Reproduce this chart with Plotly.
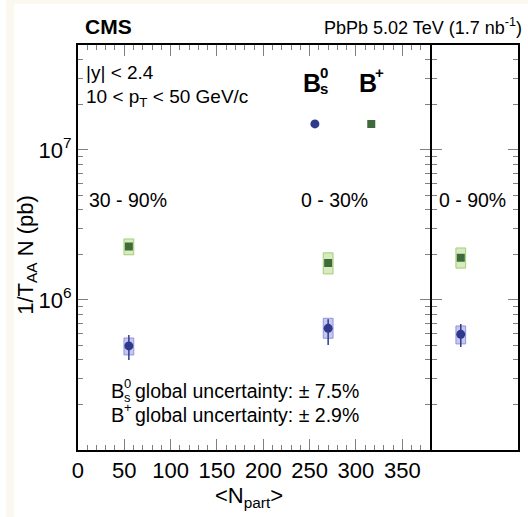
import plotly.graph_objects as go

W, H = 528, 517

# ---------------- data ----------------
centrality_labels = ["30 - 90%", "0 - 30%"]
npart = [55, 270]
total_label = "0 - 90%"

bplus_y = [2.27e6, 1.76e6]
bplus_syst_lo = [2.00e6, 1.49e6]
bplus_syst_hi = [2.55e6, 2.06e6]

bs_y = [4.94e5, 6.47e5]
bs_stat_lo = [3.98e5, 5.01e5]
bs_stat_hi = [5.84e5, 7.43e5]
bs_syst_lo = [4.30e5, 5.55e5]
bs_syst_hi = [5.58e5, 7.55e5]

# integrated 0-90%
bplus_tot = [1.91e6]
bplus_tot_syst_lo = [1.63e6]
bplus_tot_syst_hi = [2.22e6]
bs_tot = [5.90e5]
bs_tot_stat_lo = [4.86e5]
bs_tot_stat_hi = [6.92e5]
bs_tot_syst_lo = [5.09e5]
bs_tot_syst_hi = [6.71e5]
tot_pos = [1]

x_ticks = [0, 50, 100, 150, 200, 250, 300, 350]
y_ticks = [1e6, 1e7]
y_ticktext = ["10<sup>6</sup>", "10<sup>7</sup>"]
y_minor = [k * 10 ** e for e in (5, 6) for k in range(2, 10)] + [2e7, 3e7, 4e7]

legend_x = [255.7, 316.5]
legend_y = [1.49e7, 1.49e7]

FONT = "Liberation Sans, Arial, sans-serif"
BS_COL = "#303a8c"
BP_COL = "#3f6a3a"
BS_FILL = "rgba(110,115,215,0.40)"
BS_EDGE = "rgba(120,125,215,0.75)"
BP_FILL = "rgba(165,210,115,0.45)"
BP_EDGE = "rgba(150,200,100,0.85)"


def boxes(xs, lo, hi, hw):
    bx, by = [], []
    for x, a, b in zip(xs, lo, hi):
        bx += [x - hw, x + hw, x + hw, x - hw, x - hw, None]
        by += [a, a, b, b, a, None]
    return bx, by


fig = go.Figure()

# main panel boxes
for lo, hi, fill, edge in [(bplus_syst_lo, bplus_syst_hi, BP_FILL, BP_EDGE),
                           (bs_syst_lo, bs_syst_hi, BS_FILL, BS_EDGE)]:
    bx, by = boxes(npart, lo, hi, 5.3)
    fig.add_trace(go.Scatter(x=bx, y=by, mode="lines", fill="toself", fillcolor=fill,
                             line=dict(color=edge, width=1), hoverinfo="skip",
                             xaxis="x", yaxis="y"))
# right panel boxes
for lo, hi, fill, edge in [(bplus_tot_syst_lo, bplus_tot_syst_hi, BP_FILL, BP_EDGE),
                           (bs_tot_syst_lo, bs_tot_syst_hi, BS_FILL, BS_EDGE)]:
    bx, by = boxes(tot_pos, lo, hi, 0.17)
    fig.add_trace(go.Scatter(x=bx, y=by, mode="lines", fill="toself", fillcolor=fill,
                             line=dict(color=edge, width=1), hoverinfo="skip",
                             xaxis="x2", yaxis="y2"))

# main panel markers
fig.add_trace(go.Scatter(
    x=npart, y=bs_y, mode="markers",
    marker=dict(symbol="circle", size=9, color=BS_COL),
    error_y=dict(type="data", symmetric=False,
                 array=[h - v for h, v in zip(bs_stat_hi, bs_y)],
                 arrayminus=[v - l for l, v in zip(bs_stat_lo, bs_y)],
                 color=BS_COL, thickness=1.5, width=0),
    xaxis="x", yaxis="y"))
fig.add_trace(go.Scatter(
    x=npart, y=bplus_y, mode="markers",
    marker=dict(symbol="square", size=8, color=BP_COL),
    xaxis="x", yaxis="y"))
# right panel markers
fig.add_trace(go.Scatter(
    x=tot_pos, y=bs_tot, mode="markers",
    marker=dict(symbol="circle", size=9, color=BS_COL),
    error_y=dict(type="data", symmetric=False,
                 array=[h - v for h, v in zip(bs_tot_stat_hi, bs_tot)],
                 arrayminus=[v - l for l, v in zip(bs_tot_stat_lo, bs_tot)],
                 color=BS_COL, thickness=1.5, width=0),
    xaxis="x2", yaxis="y2"))
fig.add_trace(go.Scatter(
    x=tot_pos, y=bplus_tot, mode="markers",
    marker=dict(symbol="square", size=8, color=BP_COL),
    xaxis="x2", yaxis="y2"))
# legend glyphs
fig.add_trace(go.Scatter(x=legend_x[:1], y=legend_y[:1], mode="markers",
                         marker=dict(symbol="circle", size=9, color=BS_COL),
                         xaxis="x", yaxis="y"))
fig.add_trace(go.Scatter(x=legend_x[1:], y=legend_y[1:], mode="markers",
                         marker=dict(symbol="square", size=8, color=BP_COL),
                         xaxis="x", yaxis="y"))


def px(x):
    return x / W


def py(y):
    return 1 - y / H


XL, XM1, XM2, XR = 72.7, 429, 431, 518
YT, YB = 45, 450
TICKC = "#808080"

common = dict(showline=True, linecolor="black", linewidth=2, showgrid=False,
              zeroline=False)

fig.update_layout(
    width=W, height=H,
    margin=dict(l=0, r=0, t=0, b=0),
    paper_bgcolor="white", plot_bgcolor="white",
    showlegend=False,
    font=dict(family=FONT, color="black"),
    xaxis=dict(domain=[px(XL), px(XM1)], range=[0, 380], anchor="y",
               tickmode="array", tickvals=x_ticks, ticks="inside", ticklen=11,
               tickwidth=1.3, tickcolor=TICKC, mirror="allticks",
               tickfont=dict(size=22, family=FONT),
               minor=dict(dtick=10, tick0=0, ticks="inside", ticklen=5,
                          tickwidth=1.3, tickcolor=TICKC),
               **common),
    yaxis=dict(domain=[py(YB), py(YT)], type="log", range=[5, 7.69897], anchor="x",
               tickmode="array", tickvals=y_ticks, ticktext=y_ticktext,
               ticks="inside", ticklen=10, tickwidth=1.3, tickcolor=TICKC,
               mirror="allticks", tickfont=dict(size=22, family=FONT),
               minor=dict(tickmode="array", tickvals=y_minor, ticks="inside",
                          ticklen=5, tickwidth=1.3, tickcolor=TICKC),
               **common),
    xaxis2=dict(domain=[px(XM2), px(XR)], range=[0, 3], anchor="y2",
                showticklabels=False, ticks="", mirror=True, **common),
    yaxis2=dict(domain=[py(YB), py(YT)], type="log", range=[5, 7.69897], anchor="x2",
                tickmode="array", tickvals=y_ticks, showticklabels=False,
                ticks="inside", ticklen=10, tickwidth=1.3, tickcolor=TICKC,
                mirror="allticks",
                minor=dict(tickmode="array", tickvals=y_minor, ticks="inside",
                           ticklen=5, tickwidth=1.3, tickcolor=TICKC),
                **common),
)

CREAM = "#fbf8f0"
fig.add_shape(type="rect", xref="paper", yref="paper", x0=0, x1=px(8), y0=0, y1=1,
              fillcolor=CREAM, line_width=0, layer="below")
fig.add_shape(type="rect", xref="paper", yref="paper", x0=0, x1=1, y0=py(4), y1=1,
              fillcolor=CREAM, line_width=0, layer="below")


def ann(text, x, y, size, xanchor="left", yanchor="middle", textangle=0):
    fig.add_annotation(text=text, x=px(x), y=py(y), xref="paper", yref="paper",
                       xanchor=xanchor, yanchor=yanchor, showarrow=False,
                       borderpad=0, borderwidth=0,
                       textangle=textangle, font=dict(size=size, family=FONT, color="black"))


ann("<b>CMS</b>", 80, 26, 21)
ann("PbPb 5.02 TeV (1.7 nb<sup>-1</sup>)", 522, 26, 18, xanchor="right")
ann("|y| < 2.4", 81, 72, 19)
ann("10 < p<sub>T</sub> < 50 GeV/c", 81, 98, 19)

# legend labels
ann("<b>B</b>", 300, 83, 25)
ann("<b>0</b>", 318, 73, 15)
ann("<b>s</b>", 318, 89, 15)
ann("<b>B</b>", 357, 83, 25)
ann("<b>+</b>", 373, 73, 15)

# centrality labels
ann(centrality_labels[0], 84, 200, 19.5)
ann(centrality_labels[1], 298, 200, 19.5)
ann(total_label, 438, 200, 19.5)

# global uncertainties
ann("B", 106, 391, 20)
ann("0", 119.5, 383, 13)
ann("s", 119.5, 397, 13)
ann("global uncertainty: \u00b1 7.5%", 130, 391, 19.5)
ann("B", 106, 415, 20)
ann("+", 119.5, 407, 13)
ann("global uncertainty: \u00b1 2.9%", 130, 415, 19.5)

# axis titles
ann("<N<sub>part</sub>>", 246, 497, 22, xanchor="center")
ann("1/T<sub>AA</sub> N (pb)", 21, 255, 22, xanchor="center", textangle=-90)

fig.write_html("out.html", config={"displayModeBar": False},
               post_script="document.body.style.margin='0';")
